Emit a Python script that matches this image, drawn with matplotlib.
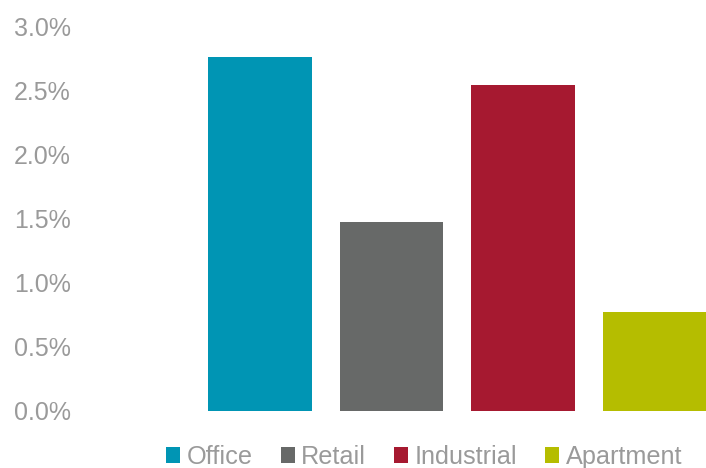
import matplotlib
matplotlib.use("Agg")
import matplotlib.pyplot as plt
from matplotlib.patches import Patch
from matplotlib.ticker import FuncFormatter

categories = ["Office", "Retail", "Industrial", "Apartment"]
values = [2.76, 1.47, 2.54, 0.77]
colors = ["#0095B4", "#676968", "#A61930", "#B5BD00"]
yticks = [0.0, 0.5, 1.0, 1.5, 2.0, 2.5, 3.0]

plt.rcParams["font.family"] = ["Liberation Sans", "DejaVu Sans"]
text_color = "#9A9A9A"

fig = plt.figure(figsize=(7.06, 4.68), dpi=100)
ax = fig.add_axes([0.1133, 0.1224, 0.8867, 0.8210])

x = list(range(len(categories)))
ax.bar(x, values, width=0.79, color=colors)

ax.set_xlim(-1.369, 3.392)
ax.set_ylim(0, 3.0)
ax.set_yticks(yticks)
ax.yaxis.set_major_formatter(FuncFormatter(lambda v, _: f"{v:.1f}%"))
ax.set_xticks([])
ax.tick_params(axis="y", length=0, pad=6.5, labelsize=18, labelcolor=text_color)
for s in ax.spines.values():
    s.set_visible(False)

handles = [Patch(facecolor=c, edgecolor="none", label=l) for c, l in zip(colors, categories)]
leg = fig.legend(handles=handles, loc="center", bbox_to_anchor=(0.601, 0.024),
                 ncol=4, frameon=False, fontsize=18.2, handlelength=0.56,
                 handleheight=0.56, handletextpad=0.26, columnspacing=1.1,
                 borderpad=0, borderaxespad=0)
for t in leg.get_texts():
    t.set_color(text_color)

fig.savefig("out.png", dpi=100)
